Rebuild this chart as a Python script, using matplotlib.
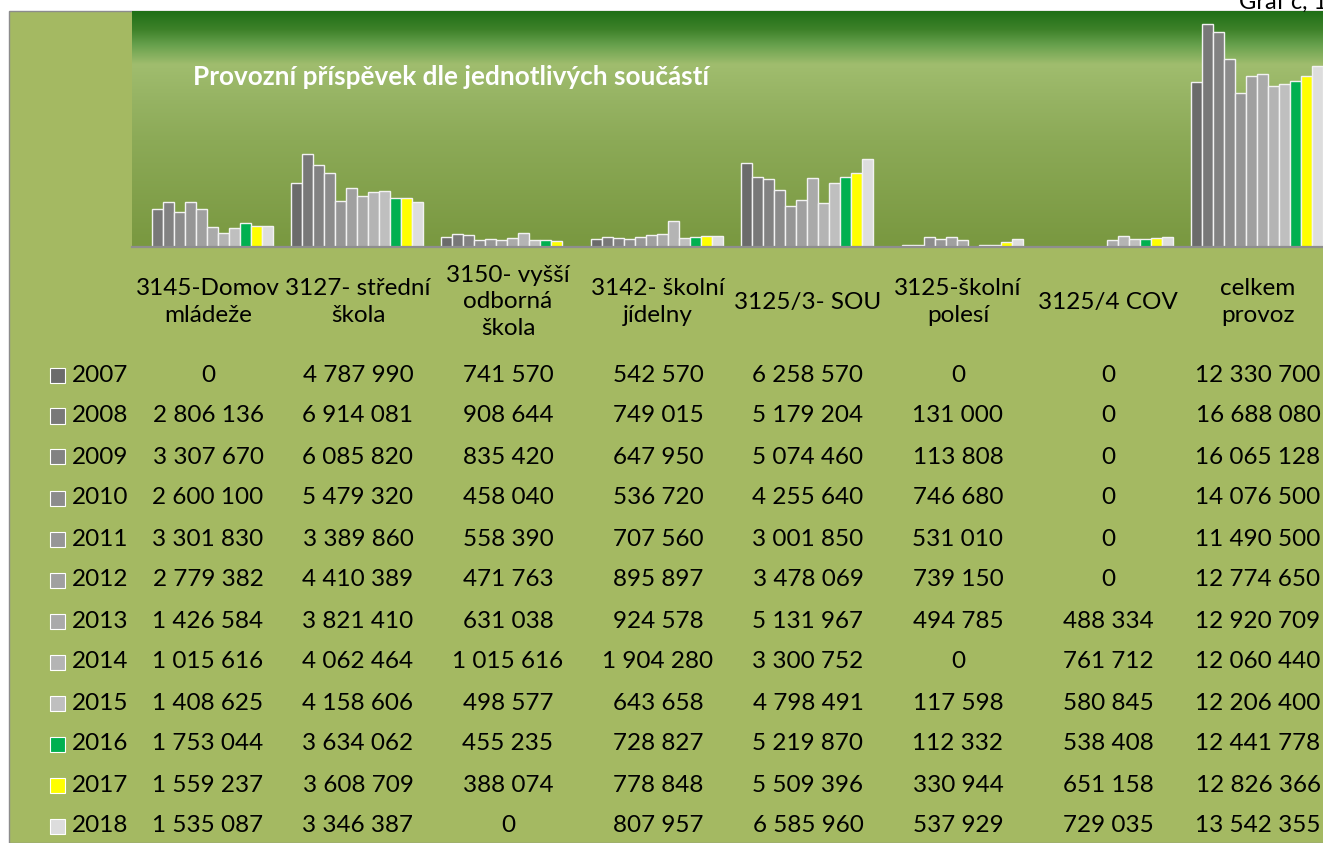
import numpy as np
import matplotlib.pyplot as plt
from matplotlib.colors import LinearSegmentedColormap
from matplotlib.patches import Rectangle

plt.rcParams['font.family'] = ['Lato', 'DejaVu Sans']

### DATA
categories = ["3145-Domov\nmládeže", "3127- střední\nškola", "3150- vyšší\nodborná\nškola",
              "3142- školní\njídelny", "3125/3- SOU", "3125-školní\npolesí", "3125/4 COV",
              "celkem\nprovoz"]
years = ["2007", "2008", "2009", "2010", "2011", "2012",
         "2013", "2014", "2015", "2016", "2017", "2018"]

v2007 = [0, 4787990, 741570, 542570, 6258570, 0, 0, 12330700]
v2008 = [2806136, 6914081, 908644, 749015, 5179204, 131000, 0, 16688080]
v2009 = [3307670, 6085820, 835420, 647950, 5074460, 113808, 0, 16065128]
v2010 = [2600100, 5479320, 458040, 536720, 4255640, 746680, 0, 14076500]
v2011 = [3301830, 3389860, 558390, 707560, 3001850, 531010, 0, 11490500]
v2012 = [2779382, 4410389, 471763, 895897, 3478069, 739150, 0, 12774650]
v2013 = [1426584, 3821410, 631038, 924578, 5131967, 494785, 488334, 12920709]
v2014 = [1015616, 4062464, 1015616, 1904280, 3300752, 0, 761712, 12060440]
v2015 = [1408625, 4158606, 498577, 643658, 4798491, 117598, 580845, 12206400]
v2016 = [1753044, 3634062, 455235, 728827, 5219870, 112332, 538408, 12441778]
v2017 = [1559237, 3608709, 388074, 778848, 5509396, 330944, 651158, 12826366]
v2018 = [1535087, 3346387, 0, 807957, 6585960, 537929, 729035, 13542355]
values = [v2007, v2008, v2009, v2010, v2011, v2012,
          v2013, v2014, v2015, v2016, v2017, v2018]

colors = ['#6b6b6b', '#787878', '#828282', '#8c8c8c', '#969696', '#a0a0a0',
          '#aaaaaa', '#b4b4b4', '#bfbfbf', '#00b050', '#ffff00', '#dddddd']

### FIGURE (pixel helpers)
W, H = 1323, 843
def fx(px):
    return px / W
def fy(py):
    return 1 - py / H

fig = plt.figure(figsize=(W / 100, H / 100), dpi=100, facecolor='white')

# chart area background + border
olive = '#a4b962'
fig.patches.append(Rectangle((fx(9), 0), 1, fy(11), transform=fig.transFigure,
                             facecolor=olive, edgecolor='#8c8c8c', lw=1.0, zorder=0))

# plot area: gradient background axes
left, right, top, base = 132, 1332, 11, 246.5
pos = [fx(left), fy(base), fx(right) - fx(left), fy(top) - fy(base)]
bg = fig.add_axes(pos, zorder=1)
stops = [(0.0, '#1e6e17'), (0.08, '#3d8129'), (0.145, '#66a04c'), (0.23, '#a0bd6e'),
         (0.38, '#96b363'), (0.55, '#8caa57'), (1.0, '#799840')]
cmap = LinearSegmentedColormap.from_list('bggrad', stops)
grad = np.linspace(0, 1, 256).reshape(-1, 1)
bg.imshow(grad, aspect='auto', cmap=cmap, extent=(0, 1, 0, 1), origin='upper')
bg.axis('off')

ax = fig.add_axes(pos, zorder=2)
ax.patch.set_alpha(0)
n = len(years)
bw = 11 / 150
x = np.arange(len(categories))
for j, (yr, vals) in enumerate(zip(years, values)):
    ax.bar(x + (j - (n - 1) / 2) * bw, vals, width=bw, color=colors[j],
           edgecolor='#f2f2f2', linewidth=1.0)
ax.set_xlim(-0.5, len(categories) - 0.5)
ax.set_ylim(0, 17.67e6)
for s in ['top', 'left', 'right']:
    ax.spines[s].set_visible(False)
ax.spines['bottom'].set_color('#8e8e8e')
ax.spines['bottom'].set_linewidth(1.6)
ax.set_xticks([])
ax.set_yticks([])

# title
fig.text(fx(193), fy(77), "Provozní příspěvek dle jednotlivých součástí", color='white',
         fontsize=18.8, fontweight='bold', ha='left', va='center', zorder=5)

# chart label at top right (cropped in the original too)
fig.text(fx(1239), fy(9), "Graf č, 16", fontsize=17, ha='left', va='baseline',
         color='black', zorder=5)

### DATA TABLE
fs = 17.5
cx = [208 + 150 * i for i in range(len(categories))]
for i, lab in enumerate(categories):
    fig.text(fx(cx[i]), fy(302), lab, ha='center', va='center', fontsize=fs,
             linespacing=1.33, multialignment='center', zorder=5)

for k, yr in enumerate(years):
    ry = 375 + 41.0 * k
    fig.patches.append(Rectangle((fx(50.5), fy(ry + 7.5)), 15 / W, 15 / H,
                                 transform=fig.transFigure, facecolor=colors[k],
                                 edgecolor='white', lw=0.8, zorder=5))
    fig.text(fx(72), fy(ry), yr, ha='left', va='center', fontsize=fs, zorder=5)
    for i in range(len(categories)):
        txt = f"{values[k][i]:,}".replace(',', ' ')
        fig.text(fx(cx[i]), fy(ry), txt, ha='center', va='center', fontsize=fs, zorder=5)

fig.savefig('out.png', dpi=100, facecolor='white')
